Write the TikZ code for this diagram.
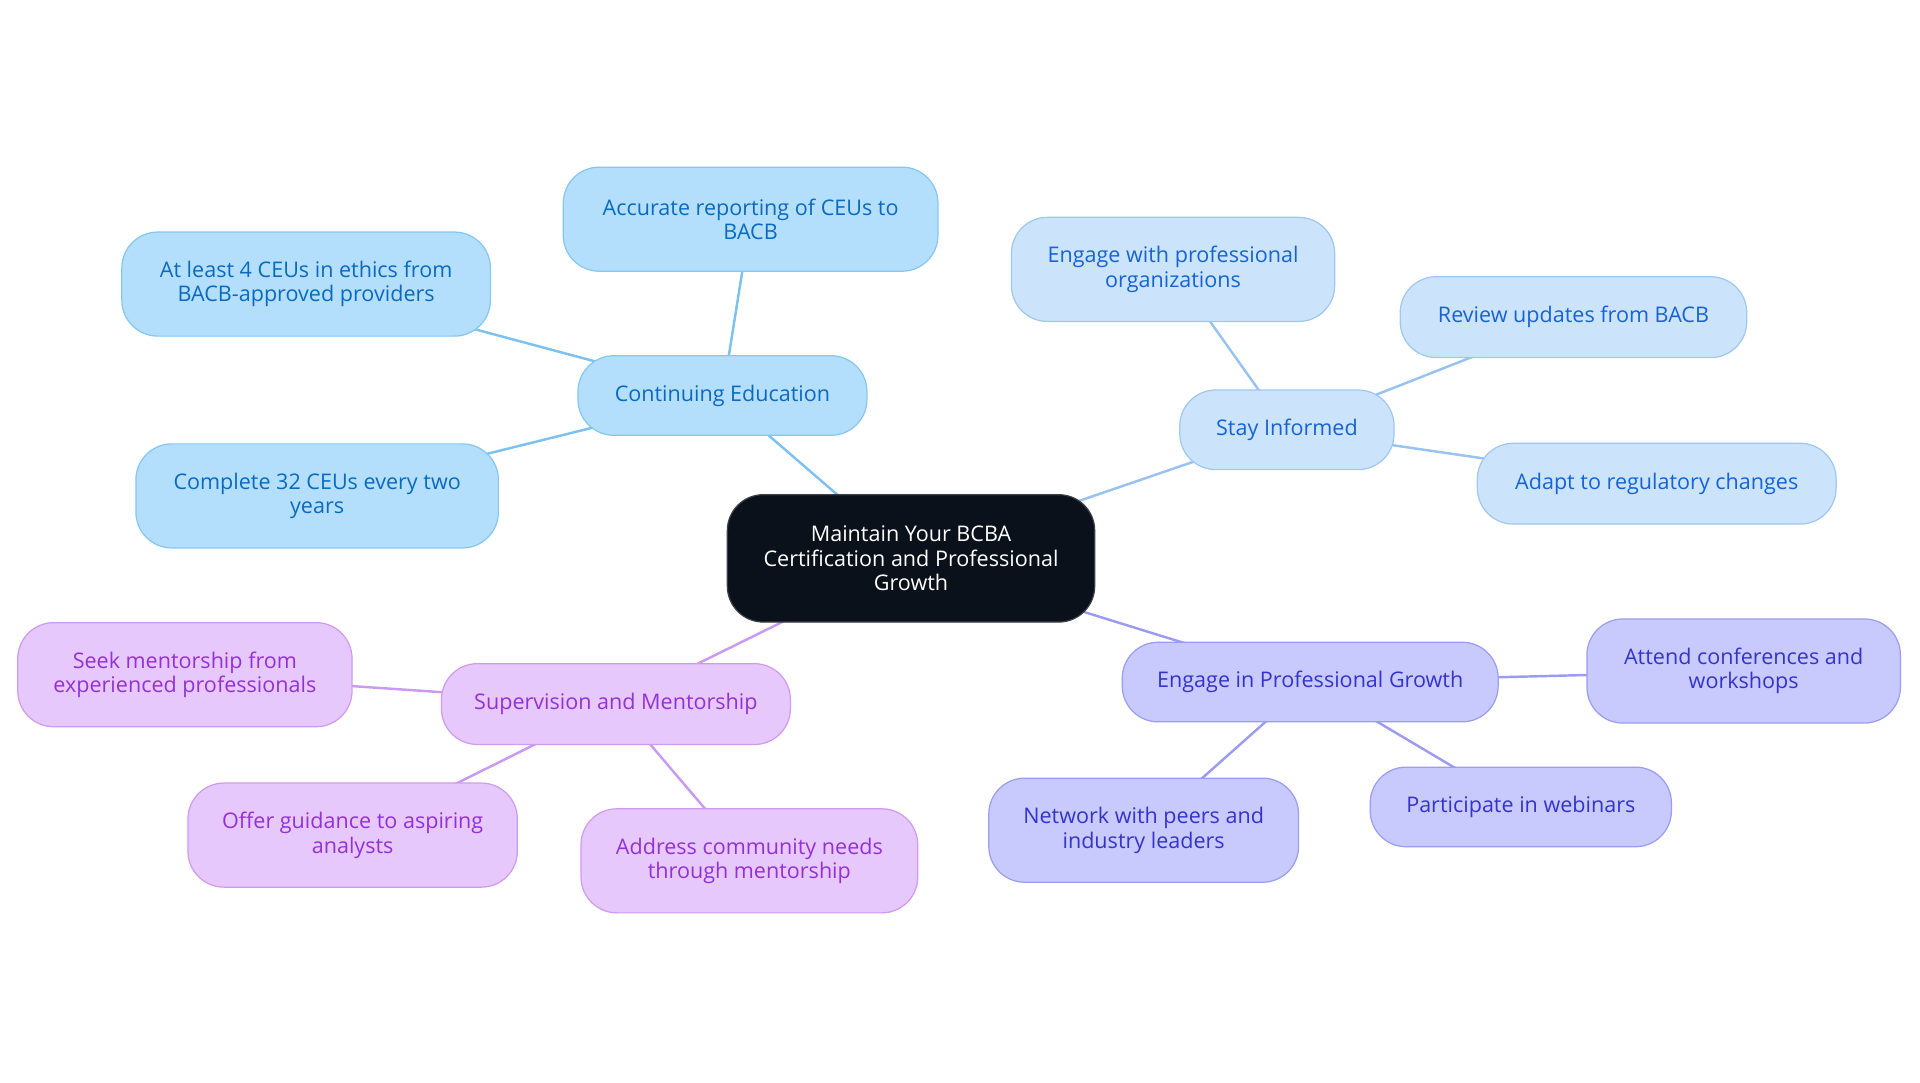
\documentclass[tikz,border=0pt]{standalone}
\usepackage{fontspec}
\setmainfont{Open Sans}
\usetikzlibrary{backgrounds}

\definecolor{rootFill}{HTML}{0B111B}
\definecolor{rootLine}{HTML}{3A3F48}
\definecolor{ceFill}{HTML}{B3DFFD}
\definecolor{ceLine}{HTML}{86C6F3}
\definecolor{ceText}{HTML}{0B6ABF}
\definecolor{ceEdge}{HTML}{7CC1F0}
\definecolor{siFill}{HTML}{CCE4FB}
\definecolor{siLine}{HTML}{A0C6F2}
\definecolor{siText}{HTML}{1563D6}
\definecolor{siEdge}{HTML}{98C2F0}
\definecolor{pgFill}{HTML}{C8C9FC}
\definecolor{pgLine}{HTML}{9B9DF2}
\definecolor{pgText}{HTML}{3434CC}
\definecolor{pgEdge}{HTML}{9A9CF2}
\definecolor{smFill}{HTML}{E7C8FC}
\definecolor{smLine}{HTML}{CF9AF2}
\definecolor{smText}{HTML}{9431D6}
\definecolor{smEdge}{HTML}{C99AF0}

\tikzset{
  leaf/.style={rounded corners=22pt, inner sep=0pt, align=center,
    line width=0.75pt, font=\fontsize{13.2}{15}\selectfont, yshift=-0.75pt},
  ceBox/.style={leaf, draw=ceLine, fill=ceFill, text=ceText},
  siBox/.style={leaf, draw=siLine, fill=siFill, text=siText},
  pgBox/.style={leaf, draw=pgLine, fill=pgFill, text=pgText},
  smBox/.style={leaf, draw=smLine, fill=smFill, text=smText},
  link/.style={line width=1.5pt},
}

\begin{document}
\begin{tikzpicture}[x=0.75pt, y=-0.75pt]
    \useasboundingbox (0,0) rectangle (1568,884.4);

    % centre
    \node[leaf, draw=rootLine, fill=rootFill, text=white, minimum width=225pt, minimum height=78pt]
        (root) at (744,455) {Maintain Your BCBA\\Certification and Professional\\Growth};

    % continuing education
    \node[ceBox, minimum width=177pt, minimum height=48.75pt] (ce) at (590,322) {Continuing Education};
    \node[ceBox, minimum width=229.5pt, minimum height=63.75pt] (ceReport) at (613,178) {Accurate reporting of CEUs to\\BACB};
    \node[ceBox, minimum width=225.75pt, minimum height=63.75pt] (ceEthics) at (250,231) {At least 4 CEUs in ethics from\\BACB-approved providers};
    \node[ceBox, minimum width=222pt, minimum height=63.75pt] (ceHours) at (259,404) {Complete 32 CEUs every two\\years};

    % stay informed
    \node[siBox, minimum width=131.25pt, minimum height=48.75pt] (si) at (1051,350) {Stay Informed};
    \node[siBox, minimum width=198pt, minimum height=63.75pt] (siOrgs) at (958,219) {Engage with professional\\organizations};
    \node[siBox, minimum width=212.25pt, minimum height=49.5pt] (siReview) at (1285,258) {Review updates from BACB};
    \node[siBox, minimum width=219.75pt, minimum height=49.5pt] (siAdapt) at (1353,394) {Adapt to regulatory changes};

    % professional growth
    \node[pgBox, minimum width=230.25pt, minimum height=48.75pt] (pg) at (1070,556) {Engage in Professional Growth};
    \node[pgBox, minimum width=192pt, minimum height=63.75pt] (pgConf) at (1424,547) {Attend conferences and\\workshops};
    \node[pgBox, minimum width=184.5pt, minimum height=48.75pt] (pgWeb) at (1242,658) {Participate in webinars};
    \node[pgBox, minimum width=189.75pt, minimum height=63.75pt] (pgNet) at (934,677) {Network with peers and\\industry leaders};

    % supervision and mentorship
    \node[smBox, minimum width=213.75pt, minimum height=49.5pt] (sm) at (503,574) {Supervision and Mentorship};
    \node[smBox, minimum width=204.75pt, minimum height=63.75pt] (smSeek) at (151,550) {Seek mentorship from\\experienced professionals};
    \node[smBox, minimum width=201.75pt, minimum height=63.75pt] (smOffer) at (288,681) {Offer guidance to aspiring\\analysts};
    \node[smBox, minimum width=206.25pt, minimum height=63.75pt] (smNeeds) at (612,702) {Address community needs\\through mentorship};

    \begin{scope}[on background layer]
        \draw[link, ceEdge] (root.center) -- (ce.center);
        \draw[link, ceEdge] (ce.center) -- (ceReport.center);
        \draw[link, ceEdge] (ce.center) -- (ceEthics.center);
        \draw[link, ceEdge] (ce.center) -- (ceHours.center);
        \draw[link, siEdge] (root.center) -- (si.center);
        \draw[link, siEdge] (si.center) -- (siOrgs.center);
        \draw[link, siEdge] (si.center) -- (siReview.center);
        \draw[link, siEdge] (si.center) -- (siAdapt.center);
        \draw[link, pgEdge] (root.center) -- (pg.center);
        \draw[link, pgEdge] (pg.center) -- (pgConf.center);
        \draw[link, pgEdge] (pg.center) -- (pgWeb.center);
        \draw[link, pgEdge] (pg.center) -- (pgNet.center);
        \draw[link, smEdge] (root.center) -- (sm.center);
        \draw[link, smEdge] (sm.center) -- (smSeek.center);
        \draw[link, smEdge] (sm.center) -- (smOffer.center);
        \draw[link, smEdge] (sm.center) -- (smNeeds.center);
    \end{scope}
\end{tikzpicture}
\end{document}
